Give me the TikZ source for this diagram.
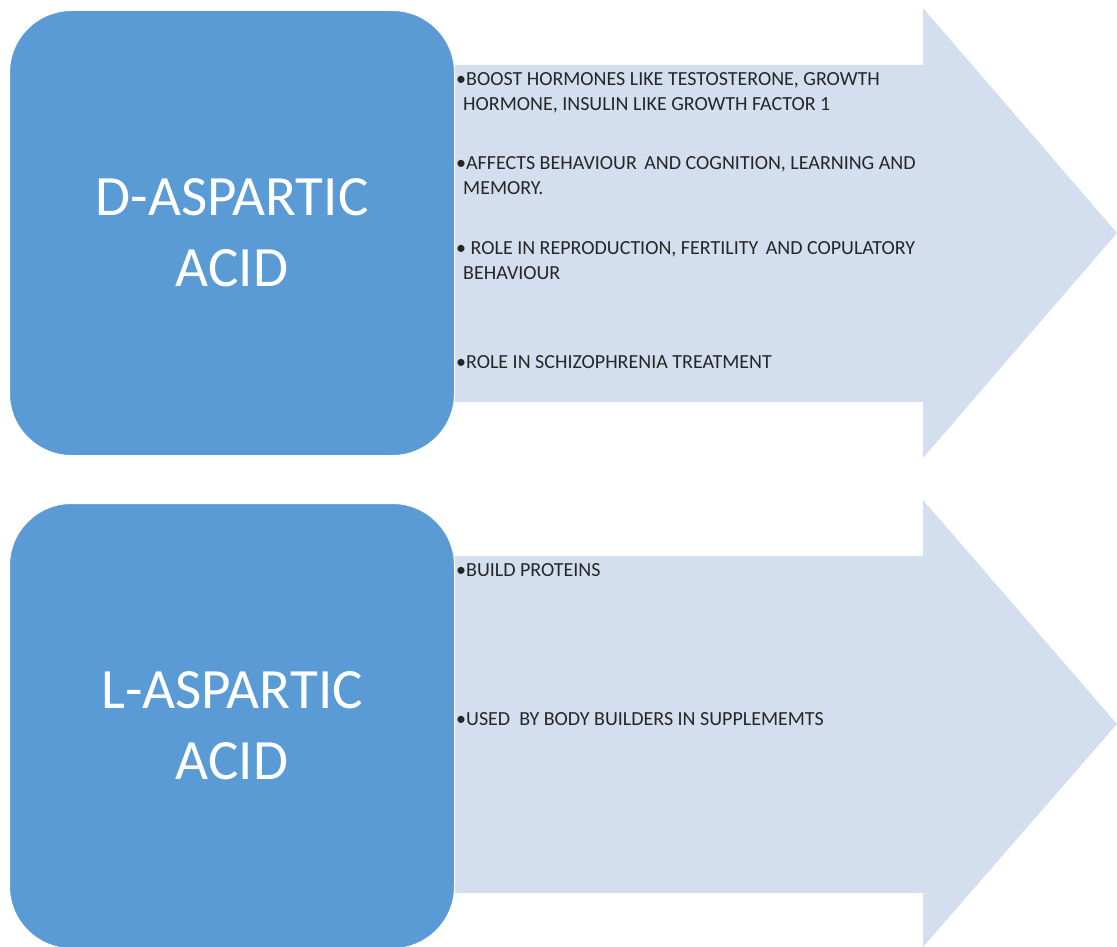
\documentclass[tikz,border=0pt]{standalone}
\usepackage{fontspec}
\setmainfont{Carlito}
\usetikzlibrary{positioning}
\definecolor{boxblue}{HTML}{5B9BD5}
\definecolor{arrowblue}{HTML}{D3DFEE}
\begin{document}
\begin{tikzpicture}[x=1pt, y=-1pt,
        acidbox/.style={fill=boxblue, draw=white, line width=1pt, rounded corners=62pt,
            minimum width=445pt, minimum height=445pt, inner sep=0pt,
            text=white, align=center, font=\fontsize{57}{71}\selectfont},
        bigarrow/.style={fill=arrowblue, draw=none},
        item/.style={anchor=base west, align=left, inner sep=0pt,
            text=black!85, font=\fontsize{20}{25}\selectfont},
    ]
    \useasboundingbox (0,0) rectangle (1117,947);
    % arrows behind the boxes
    \fill[bigarrow] (453,65) -- (923,65) -- (923,8) -- (1117,233) -- (923,458) -- (923,402) -- (453,402) -- cycle;
    \fill[bigarrow] (453,556) -- (923,556) -- (923,500) -- (1117,724) -- (923,947) -- (923,893) -- (453,893) -- cycle;
    % boxes
    \node[acidbox](dacid) at (232,233) {D-ASPARTIC\\ACID};
    \node[acidbox, below=47pt of dacid](lacid) {L-ASPARTIC\\ACID};
    % D items (base is the last line)
    \node[item](boost) at (456,111) {•BOOST HORMONES LIKE TESTOSTERONE, GROWTH\\\hspace*{7pt}HORMONE, INSULIN LIKE GROWTH FACTOR 1};
    \node[item](affects) at (456,195) {•AFFECTS BEHAVIOUR\hspace{3pt} AND COGNITION, LEARNING AND\\\hspace*{7pt}MEMORY.};
    \node[item](role) at (456,279) {• ROLE IN REPRODUCTION, FERTILITY\hspace{3pt} AND COPULATORY\\\hspace*{7pt}BEHAVIOUR};
    \node[item](schizo) at (456,368) {•ROLE IN SCHIZOPHRENIA TREATMENT};
    % L items
    \node[item](build) at (456,576) {•BUILD PROTEINS};
    \node[item](used) at (456,725) {•USED\ \ BY BODY BUILDERS IN SUPPLEMEMTS};
\end{tikzpicture}
\end{document}
